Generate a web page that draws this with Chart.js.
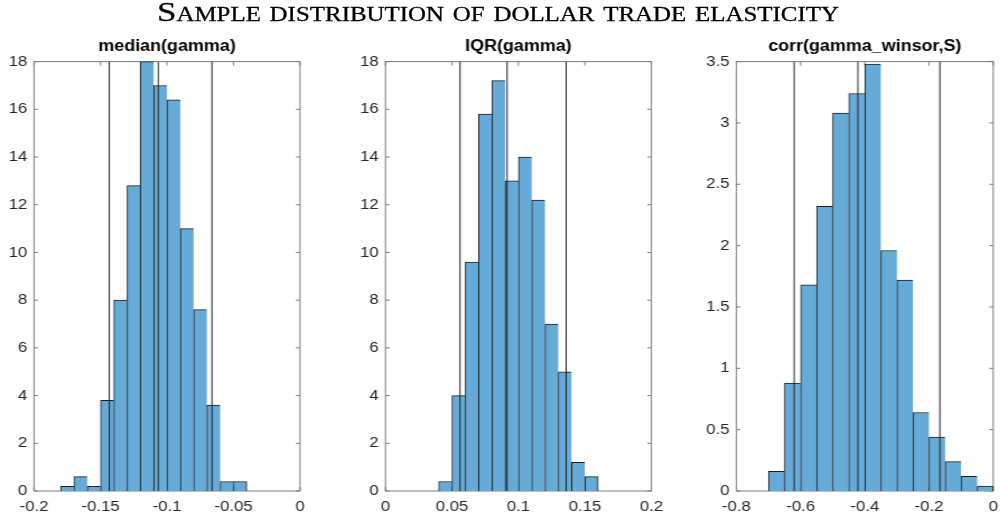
<!DOCTYPE html>
<html>
<head>
<meta charset="utf-8">
<script src="https://cdn.jsdelivr.net/npm/chart.js@4.4.1/dist/chart.umd.min.js"></script>
<style>
  html, body { margin: 0; padding: 0; background: #fff; }
  body { width: 1005px; height: 525px; overflow: hidden; position: relative; }
  #stage { position: absolute; left: 0; top: 0; height: 525px; transform-origin: 0 0; }
  #stage canvas { position: absolute; top: 0; }
  #heading {
    position: absolute; left: 0; top: 0; white-space: nowrap;
    font-family: "Liberation Serif", "DejaVu Serif", serif;
    font-variant: small-caps; font-size: 28px; line-height: 28px; color: #000;
    -webkit-text-stroke: 0.3px #000;
    transform-origin: 0 0;
  }
</style>
</head>
<body>
<div id="stage">
  <canvas id="pMedian" height="525"></canvas>
  <canvas id="pIqr" height="525"></canvas>
  <canvas id="pCorr" height="525"></canvas>
</div>
<div id="heading">Sample distribution of dollar trade elasticity</div>
<script>
// ---- histogram data (left bin edges, bin widths, density per bin) ----
const medianBins = [-0.18, -0.17, -0.16, -0.15, -0.14, -0.13, -0.12, -0.11, -0.10, -0.09, -0.08, -0.07, -0.06, -0.05];
const medianDensity = [0.2, 0.6, 0.2, 3.8, 8, 12.8, 18, 17, 16.4, 11, 7.6, 3.6, 0.4, 0.4];
const medianBinWidth = 0.01;
const medianLines = [-0.1434, -0.1065, -0.0662];

const iqrBins = [0.04, 0.05, 0.06, 0.07, 0.08, 0.09, 0.10, 0.11, 0.12, 0.13, 0.14, 0.15];
const iqrDensity = [0.4, 4, 9.6, 15.8, 17.2, 13, 14, 12.2, 7, 5, 1.2, 0.6];
const iqrBinWidth = 0.01;
const iqrLines = [0.0561, 0.0915, 0.1359];

const corrBins = [-0.70, -0.65, -0.60, -0.55, -0.50, -0.45, -0.40, -0.35, -0.30, -0.25, -0.20, -0.15, -0.10, -0.05];
const corrDensity = [0.16, 0.88, 1.68, 2.32, 3.08, 3.24, 3.48, 1.96, 1.72, 0.64, 0.44, 0.24, 0.12, 0.04];
const corrBinWidth = 0.05;
const corrLines = [-0.6198, -0.4215, -0.1662];

// ---- axis ticks ----
const medianTicks = [-0.2, -0.15, -0.1, -0.05, 0];
const medianTickLabels = ['-0.2', '-0.15', '-0.1', '-0.05', '0'];
const iqrTicks = [0, 0.05, 0.1, 0.15, 0.2];
const iqrTickLabels = ['0', '0.05', '0.1', '0.15', '0.2'];
const corrTicks = [-0.8, -0.6, -0.4, -0.2, 0];
const corrTickLabels = ['-0.8', '-0.6', '-0.4', '-0.2', '0'];
const densityTicks = [0, 2, 4, 6, 8, 10, 12, 14, 16, 18];
const densityTickLabels = ['0', '2', '4', '6', '8', '10', '12', '14', '16', '18'];
const corrDensityTicks = [0, 0.5, 1, 1.5, 2, 2.5, 3, 3.5];
const corrDensityTickLabels = ['0', '0.5', '1', '1.5', '2', '2.5', '3', '3.5'];

// ---- page geometry ----
const STRETCH = 1.12;          // horizontal scale applied to the drawing stage
const PAGE_W = 1005;
const PAGE_H = 525;
const PLOT_TOP = 62, PLOT_BOTTOM = 491;
const stage = document.getElementById('stage');
stage.style.width = (PAGE_W / STRETCH) + 'px';
stage.style.transform = 'scaleX(' + STRETCH + ')';
const toStage = px => px / STRETCH;

const FONT = '"Liberation Sans", Arial, sans-serif';
const TICK_COLOR = '#262626';
const BOX_COLOR = '#7a7a7a';
const BAR_FILL = 'rgb(102,170,215)';
const BAR_EDGE = '#1c1c1c';
const LINE_COLOR = '#1e1e1e';

// axis box with inward tick marks on all four sides
const framePlugin = {
  id: 'frame',
  beforeDatasetsDraw(chart) {
    const { ctx, chartArea: a, scales } = chart;
    const xs = scales.x, ys = scales.y;
    const lenV = 4, lenH = 4 / STRETCH;
    ctx.save();
    ctx.strokeStyle = BOX_COLOR;
    ctx.lineWidth = 1;
    ctx.strokeRect(a.left, a.top, a.right - a.left, a.bottom - a.top);
    ctx.beginPath();
    xs.ticks.forEach(t => {
      const p = xs.getPixelForValue(t.value);
      ctx.moveTo(p, a.bottom); ctx.lineTo(p, a.bottom - lenV);
      ctx.moveTo(p, a.top); ctx.lineTo(p, a.top + lenV);
    });
    ys.ticks.forEach(t => {
      const p = ys.getPixelForValue(t.value);
      ctx.moveTo(a.left, p); ctx.lineTo(a.left + lenH, p);
      ctx.moveTo(a.right, p); ctx.lineTo(a.right - lenH, p);
    });
    ctx.stroke();
    ctx.restore();
  }
};

function makePanel(opts) {
  const {
    canvasId, title, bins, density, binWidth, lines,
    xMin, xMax, xTicks, xLabels, yMax, yTicks, yLabels,
    canvasLeft, canvasRight, plotLeft, plotRight
  } = opts;

  // canvas placement in stage units
  const canvas = document.getElementById(canvasId);
  const cLeft = toStage(canvasLeft);
  const cWidth = Math.round(toStage(canvasRight - canvasLeft));
  canvas.width = cWidth;
  canvas.height = PAGE_H;
  canvas.style.left = cLeft + 'px';
  const axisWidth = toStage(plotLeft) - cLeft;
  const rightPad = cLeft + cWidth - toStage(plotRight);

  const bars = bins.map((edge, i) => ({ x: edge + binWidth / 2, y: density[i] }));
  const last = bins.length - 1;

  const lineSets = lines.map(v => ({
    type: 'line',
    data: [{ x: v, y: 0 }, { x: v, y: yMax }],
    borderColor: LINE_COLOR,
    borderWidth: 1,
    pointRadius: 0,
    fill: false,
    tension: 0,
    order: 0
  }));

  return new Chart(canvas, {
    type: 'bar',
    data: {
      datasets: [
        {
          type: 'bar',
          data: bars,
          backgroundColor: BAR_FILL,
          borderColor: BAR_EDGE,
          borderWidth: ctx => ({ top: 1, left: 1, bottom: 0, right: ctx.dataIndex === last ? 1 : 0 }),
          borderSkipped: 'start',
          barPercentage: 1,
          categoryPercentage: 1,
          order: 1
        },
        ...lineSets
      ]
    },
    options: {
      responsive: false,
      animation: false,
      events: [],
      layout: { autoPadding: false, padding: { left: 0, right: rightPad, top: 0, bottom: 0 } },
      plugins: {
        legend: { display: false },
        tooltip: { enabled: false },
        title: {
          display: true,
          text: title,
          fullSize: false,
          color: '#000',
          font: { family: FONT, size: 16, weight: 'bold', lineHeight: 1.2 },
          padding: { top: 37.4, bottom: 5 }
        }
      },
      scales: {
        x: {
          type: 'linear',
          min: xMin,
          max: xMax,
          offset: false,
          grid: { display: false, drawTicks: false },
          border: { display: false },
          afterBuildTicks: s => { s.ticks = xTicks.map(v => ({ value: v })); },
          afterFit: s => { s.height = PAGE_H - PLOT_BOTTOM; },
          ticks: {
            color: TICK_COLOR,
            font: { family: FONT, size: 15 },
            padding: 7,
            maxRotation: 0,
            autoSkip: false,
            callback: (v, i) => xLabels[i]
          }
        },
        y: {
          type: 'linear',
          min: 0,
          max: yMax,
          grid: { display: false, drawTicks: false },
          border: { display: false },
          afterBuildTicks: s => { s.ticks = yTicks.map(v => ({ value: v })); },
          afterFit: s => { s.width = axisWidth; },
          ticks: {
            color: TICK_COLOR,
            font: { family: FONT, size: 15 },
            padding: 6,
            autoSkip: false,
            callback: (v, i) => yLabels[i]
          }
        }
      }
    },
    plugins: [framePlugin]
  });
}

makePanel({
  canvasId: 'pMedian', title: 'median(gamma)',
  bins: medianBins, density: medianDensity, binWidth: medianBinWidth, lines: medianLines,
  xMin: -0.2, xMax: 0, xTicks: medianTicks, xLabels: medianTickLabels,
  yMax: 18, yTicks: densityTicks, yLabels: densityTickLabels,
  canvasLeft: 0, canvasRight: 335, plotLeft: 34, plotRight: 300
});

makePanel({
  canvasId: 'pIqr', title: 'IQR(gamma)',
  bins: iqrBins, density: iqrDensity, binWidth: iqrBinWidth, lines: iqrLines,
  xMin: 0, xMax: 0.2, xTicks: iqrTicks, xLabels: iqrTickLabels,
  yMax: 18, yTicks: densityTicks, yLabels: densityTickLabels,
  canvasLeft: 340, canvasRight: 670, plotLeft: 385, plotRight: 652.3
});

makePanel({
  canvasId: 'pCorr', title: 'corr(gamma_winsor,S)',
  bins: corrBins, density: corrDensity, binWidth: corrBinWidth, lines: corrLines,
  xMin: -0.8, xMax: 0, xTicks: corrTicks, xLabels: corrTickLabels,
  yMax: 3.5, yTicks: corrDensityTicks, yLabels: corrDensityTickLabels,
  canvasLeft: 675, canvasRight: 1005, plotLeft: 736, plotRight: 1002.3
});

// heading: spans x 157..839 on the page
const heading = document.getElementById('heading');
const headW = heading.getBoundingClientRect().width;
const headScale = (839 - 157) / headW;
heading.style.transform = 'translate(157px, -2.5px) scaleX(' + headScale + ')';
</script>
</body>
</html>
